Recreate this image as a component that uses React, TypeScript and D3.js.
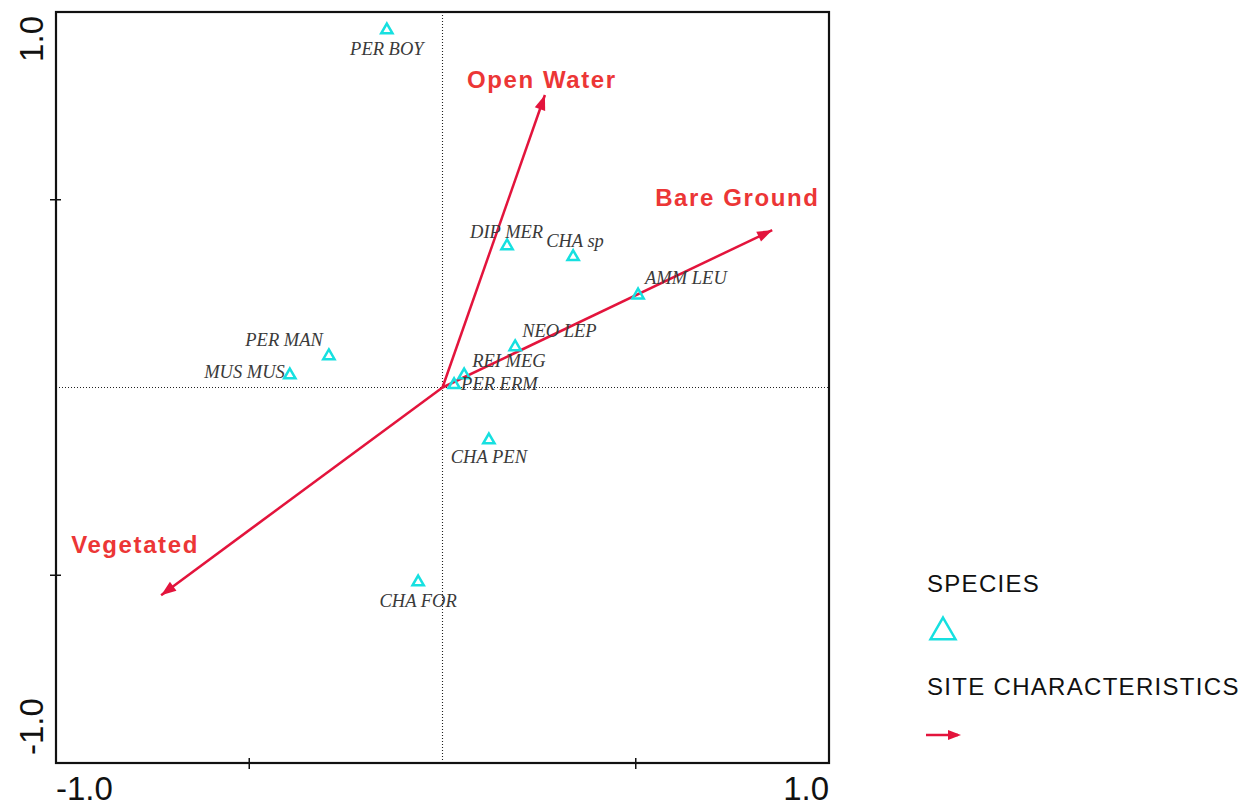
import * as d3 from "d3";

// species scores (axis 1, axis 2)
const speciesNames = ["PER BOY", "DIP MER", "CHA sp", "AMM LEU", "NEO LEP", "PER MAN", "MUS MUS", "REI MEG", "PER ERM", "CHA PEN", "CHA FOR"];
const speciesX = [-0.144, 0.167, 0.338, 0.506, 0.188, -0.294, -0.395, 0.056, 0.03, 0.12, -0.063];
const speciesY = [0.952, 0.377, 0.348, 0.246, 0.108, 0.084, 0.033, 0.033, 0.007, -0.14, -0.518];

// site characteristic vectors
const siteNames = ["Open Water", "Bare Ground", "Vegetated"];
const siteX = [0.265, 0.853, -0.728];
const siteY = [0.779, 0.419, -0.553];

const ticks = [-1, -0.5, 0, 0.5, 1];

// label placement (dx, dy, anchor) relative to each point
const speciesLabelPos: Record<string, [number, number, string]> = {
  "PER BOY": [0, 25, "middle"],
  "DIP MER": [-37, -8, "start"],
  "CHA sp": [-27, -10, "start"],
  "AMM LEU": [7, -11, "start"],
  "NEO LEP": [7, -10, "start"],
  "PER MAN": [-6, -10, "end"],
  "MUS MUS": [-5, 3, "end"],
  "REI MEG": [8, -8, "start"],
  "PER ERM": [7, 5, "start"],
  "CHA PEN": [0, 23, "middle"],
  "CHA FOR": [0, 25, "middle"],
};
const siteLabelPos: Record<string, [number, number, string]> = {
  "Open Water": [-78, -7, "start"],
  "Bare Ground": [-117, -24, "start"],
  "Vegetated": [-90, -42, "start"],
};

const W = 1247;
const H = 806;
const cyan = "#16e0e0";
const arrowRed = "#e3143c";
const labelRed = "#ec3636";

const arrowHead = (x1: number, y1: number, x2: number, y2: number, len = 15, half = 5.5) => {
  const a = Math.atan2(y2 - y1, x2 - x1);
  const bx = x2 - len * Math.cos(a);
  const by = y2 - len * Math.sin(a);
  const px = -Math.sin(a) * half;
  const py = Math.cos(a) * half;
  return `M${x2},${y2}L${bx + px},${by + py}L${bx - px},${by - py}Z`;
};

export default function App() {
  const x = d3.scaleLinear().domain([-1, 1]).range([56, 829]);
  const y = d3.scaleLinear().domain([-1, 1]).range([763, 12]);
  const tri = d3.symbol(d3.symbolTriangle, 55)();
  const bigTri = d3.symbol(d3.symbolTriangle, 270)();
  const x0 = x(0);
  const y0 = y(0);

  return (
    <svg width={W} height={H} style={{ position: "absolute", left: 0, top: 0, background: "#fff" }}>
      {/* zero lines */}
      <line x1={x(-1)} x2={x(1)} y1={y0} y2={y0} stroke="#222" strokeWidth={1.1} strokeDasharray="1,2" />
      <line x1={x0} x2={x0} y1={y(1)} y2={y(-1)} stroke="#222" strokeWidth={1.1} strokeDasharray="1,2" />

      {/* frame */}
      <rect x={x(-1)} y={y(1)} width={x(1) - x(-1)} height={y(-1) - y(1)} fill="none" stroke="#111" strokeWidth={2.2} />
      {ticks.filter((t) => Math.abs(t) === 0.5).map((t) => (
        <g key={t}>
          <line x1={x(-1) - 6} x2={x(-1) + 5} y1={y(t)} y2={y(t)} stroke="#111" strokeWidth={1.5} />
          <line x1={x(t)} x2={x(t)} y1={y(-1) - 5} y2={y(-1) + 6} stroke="#111" strokeWidth={1.5} />
        </g>
      ))}

      {/* tick labels */}
      <g fontFamily="Liberation Sans, Arial, sans-serif" fontSize={33} fill="#111">
        <text x={x(-1)} y={y(-1) + 37} textAnchor="start">-1.0</text>
        <text x={x(1)} y={y(-1) + 37} textAnchor="end">1.0</text>
        <text transform={`translate(${x(-1) - 13},${y(1) + 4}) rotate(-90)`} textAnchor="end">1.0</text>
        <text transform={`translate(${x(-1) - 13},${y(-1) - 8}) rotate(-90)`} textAnchor="start">-1.0</text>
      </g>

      {/* site arrows */}
      {siteNames.map((n, i) => {
        const x2 = x(siteX[i]);
        const y2 = y(siteY[i]);
        const [dx, dy, anchor] = siteLabelPos[n];
        return (
          <g key={n}>
            <line x1={x0} y1={y0} x2={x2} y2={y2} stroke={arrowRed} strokeWidth={2.5} />
            <path d={arrowHead(x0, y0, x2, y2)} fill={arrowRed} />
            <text x={x2 + dx} y={y2 + dy} textAnchor={anchor} fontFamily="Liberation Sans, Arial, sans-serif" fontWeight="bold" fontSize={24} letterSpacing={1.6} fill={labelRed}>{n}</text>
          </g>
        );
      })}

      {/* species */}
      {speciesNames.map((n, i) => {
        const px = x(speciesX[i]);
        const py = y(speciesY[i]);
        const [dx, dy, anchor] = speciesLabelPos[n];
        return (
          <g key={n}>
            <path d={tri!} transform={`translate(${px},${py})`} fill="none" stroke={cyan} strokeWidth={2.5} />
            <text x={px + dx} y={py + dy} textAnchor={anchor} fontFamily="Liberation Serif, Times New Roman, serif" fontStyle="italic" fontSize={18.5} fill="#3a3a3a">{n}</text>
          </g>
        );
      })}

      {/* legend */}
      <g fontFamily="Liberation Sans, Arial, sans-serif" fontSize={24} letterSpacing={1.3} fill="#111">
        <text x={927} y={592}>SPECIES</text>
        <path d={bigTri!} transform="translate(943,632)" fill="none" stroke={cyan} strokeWidth={2.5} />
        <text x={927} y={695}>SITE CHARACTERISTICS</text>
        <line x1={926} y1={735} x2={958} y2={735} stroke={arrowRed} strokeWidth={2.5} />
        <path d={arrowHead(926, 735, 961, 735, 13, 5)} fill={arrowRed} />
      </g>
    </svg>
  );
}
